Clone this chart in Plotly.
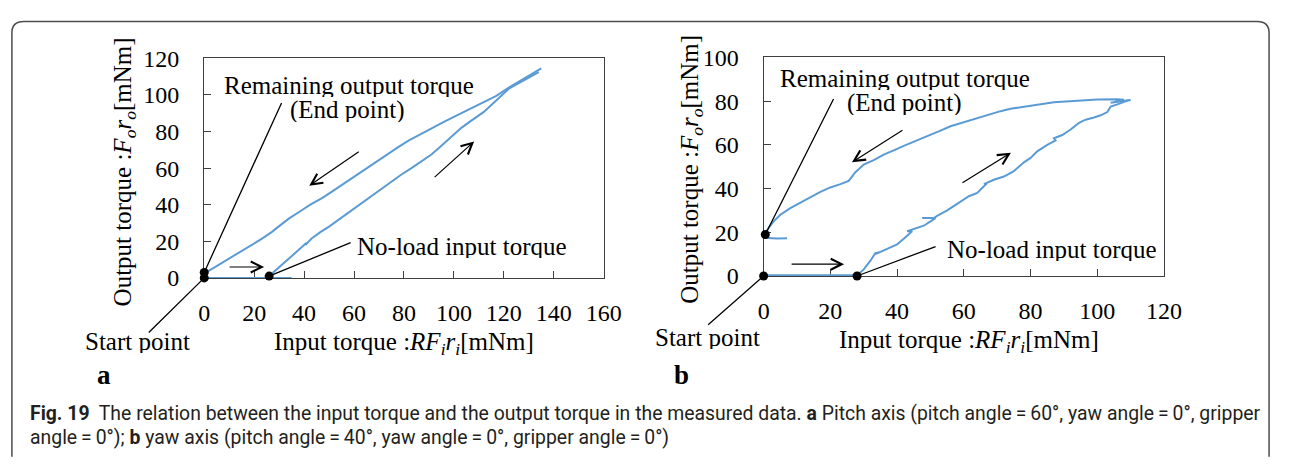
import plotly.graph_objects as go

W, H = 1290, 467
BLUE = "#5b9bd5"
AX = "#3f3f3f"
SERIF = "Liberation Serif, Times New Roman, serif"
CAPFONT = "Roboto, Noto Sans, sans-serif"

# ---- (a) pitch axis ----
a_idle_x = [0, 10, 20, 30, 35]
a_idle_y = [0, 0, 0, 0, 0]
a_load_x = [26, 29, 32, 35, 38, 41, 40.5, 43, 46.5, 50, 53, 56, 59, 62, 65.5, 69, 72,
            75, 79, 83, 87, 91, 94, 97, 100, 103, 106, 109, 112, 115, 118, 122, 126,
            130, 134]
a_load_y = [1, 4.5, 8.5, 12, 15.5, 19.2, 18, 21.5, 25, 28, 31, 33.8, 36.8, 39.9, 43,
            46.5, 49.7, 52.8, 56.5, 60, 63.6, 67.4, 71, 74.8, 78.5, 82, 85, 88, 90.7,
            94.5, 98.5, 103.4, 106.5, 109.5, 112.5]
a_unload_x = [135, 130, 126, 122, 117, 112, 108, 104, 100, 96, 91, 86, 82, 78, 74, 70,
              65, 60, 55, 51, 47, 42.5, 38, 34, 30, 27, 23, 19, 15, 10, 5, 1, 0]
a_unload_y = [114.5, 110.5, 107.3, 104, 99.5, 96, 93.5, 90.8, 88, 85.3, 81.8, 78.2,
              75.2, 71.7, 68, 64.5, 60, 55, 50.5, 47, 43.5, 40, 36, 32.5, 28.3, 25,
              21.3, 18, 14.8, 10.5, 6.8, 3.2, 3]
a_start = (0, 0)
a_end = (0, 3)
a_noload = (26, 1)

# ---- (b) yaw axis ----
b_idle_x = [0, 10, 20, 28]
b_idle_y = [0.3, 0.3, 0.3, 0.3]
b_load_x = [28, 30, 32, 33.5, 35, 33.5, 35.5, 37.5, 40, 42, 44.5, 43, 46, 48, 50, 51.5,
            47.5, 51, 52, 55, 58, 61.5, 64, 67, 66, 69, 72, 75, 78, 80, 82, 85, 87.5,
            87, 89.5, 92, 94.5, 96.5, 99, 101, 103, 104, 106, 108, 109.5]
b_load_y = [0.3, 3, 7, 10.5, 11, 10, 11.5, 12.5, 14.5, 17, 20.5, 20.5, 22, 23, 25, 26.5,
            26.5, 26.5, 27.5, 30, 33, 36.5, 38, 42.5, 42, 44, 45.5, 48, 52, 54, 57, 60,
            62, 63, 64.5, 67, 70, 71.5, 72.5, 73.5, 75, 77.5, 78.5, 79.5, 80.5]
b_unload_x = [110, 104, 108, 106, 100, 95, 91, 87, 84, 82, 80, 77, 74, 71, 68, 65, 62,
              59, 56, 53, 50, 47.5, 45, 42, 39, 36, 33, 30, 27.5, 25.5, 23, 20, 17, 14,
              11, 8, 5, 3, 1.5, 0.5, 0.3, 2, 4, 7]
b_unload_y = [80.5, 79.2, 80.6, 80.8, 80.7, 80.3, 80, 79.5, 78.8, 78.3, 78, 77.3, 76.5,
              75.4, 74, 72.5, 71, 69.8, 68.5, 66.5, 64.5, 62.8, 61.3, 59.5, 57.5, 55.5,
              53, 51, 47.5, 43.5, 42, 40.5, 38.5, 36, 33.5, 31, 28, 25, 22, 19.5, 17.5,
              17.3, 17.2, 17.3]
b_start = (0, 0)
b_end = (0.5, 19)
b_noload = (28, 0)

x_ticks_a = [0, 20, 40, 60, 80, 100, 120, 140, 160]
y_ticks_a = [0, 20, 40, 60, 80, 100, 120]
x_ticks_b = [0, 20, 40, 60, 80, 100, 120]
y_ticks_b = [0, 20, 40, 60, 80, 100]


def px(x):
    return x / W


def py(y):
    return 1 - y / H


fig = go.Figure()

line_style = dict(color=BLUE, width=2)
for xs, ys, xa, ya in [
    (a_idle_x, a_idle_y, "x", "y"),
    (a_load_x, a_load_y, "x", "y"),
    (a_unload_x, a_unload_y, "x", "y"),
    (b_idle_x, b_idle_y, "x2", "y2"),
    (b_load_x, b_load_y, "x2", "y2"),
    (b_unload_x, b_unload_y, "x2", "y2"),
]:
    fig.add_trace(go.Scatter(x=xs, y=ys, xaxis=xa, yaxis=ya, mode="lines",
                             line=line_style, cliponaxis=False, hoverinfo="skip"))

for pts, xa, ya in [((a_start, a_end, a_noload), "x", "y"),
                    ((b_start, b_end, b_noload), "x2", "y2")]:
    fig.add_trace(go.Scatter(x=[p[0] for p in pts], y=[p[1] for p in pts],
                             xaxis=xa, yaxis=ya, mode="markers",
                             marker=dict(color="black", size=9), cliponaxis=False,
                             hoverinfo="skip"))


def axis(domain, rng, ticks, anchor, standoff):
    return dict(domain=domain, range=rng, tickmode="array", tickvals=ticks,
                ticktext=[str(t) for t in ticks], ticks="inside", ticklen=7,
                tickwidth=1.2, tickcolor=AX, showline=True, linecolor=AX,
                linewidth=1.3, mirror=True, showgrid=False, zeroline=False,
                anchor=anchor, ticklabelstandoff=standoff, layer="below traces",
                tickfont=dict(family=SERIF, size=24, color="black"),
                fixedrange=True)


fig.update_layout(
    width=W, height=H, margin=dict(l=0, r=0, t=0, b=0),
    paper_bgcolor="white", plot_bgcolor="white", showlegend=False,
    xaxis=axis([px(202), px(609)], [0, 160], x_ticks_a, "y", 13),
    yaxis=axis([py(280.5), py(48)], [0, 120], y_ticks_a, "x", 19),
    xaxis2=axis([px(772), px(1180)], [0, 120], x_ticks_b, "y2", 13),
    yaxis2=axis([py(278.5), py(47)], [0, 100], y_ticks_b, "x2", 19),
)

anns = []
tfont = dict(family=SERIF, size=25, color="black")

# axis titles
y_title = "Output torque :<i>F</i><sub><i>o</i></sub><i>r</i><sub><i>o</i></sub>[mNm]"
x_title = "Input torque :<i>RF</i><sub><i>i</i></sub><i>r</i><sub><i>i</i></sub>[mNm]"
for cx, cy in [(121, 168), (699, 165)]:
    anns.append(dict(text=y_title, x=px(cx), y=py(cy), xref="paper", yref="paper",
                     showarrow=False, textangle=-90, font=tfont,
                     xanchor="center", yanchor="middle"))
for cx, cy in [(406, 350), (981, 348)]:
    anns.append(dict(text=x_title, x=px(cx), y=py(cy), xref="paper", yref="paper",
                     showarrow=False, font=tfont, xanchor="center", yanchor="middle"))

# text labels inside the panels
for text, cx, cy, anchor in [
    ("Remaining output torque", 350, 76, "center"),
    ("(End point)", 348, 102.5, "center"),
    ("No-load input torque", 357, 247, "left"),
    ("Start point", 134, 347, "center"),
    ("Remaining output torque", 916, 69, "center"),
    ("(End point)", 916, 95.5, "center"),
    ("No-load input torque", 958, 250, "left"),
    ("Start point", 715, 343, "center"),
]:
    anns.append(dict(text=text, x=px(cx), y=py(cy), xref="paper", yref="paper",
                     showarrow=False, font=tfont, xanchor=anchor, yanchor="middle",
                     height=24, borderpad=0, valign="middle"))

# leader lines from the labels to the marked points
for (pt, xa, ya, dx, dy) in [
    (a_start, "x", "y", -57, 56),
    (a_end, "x", "y", 78, -171),
    (a_noload, "x", "y", 83, -34),
    (b_start, "x2", "y2", -57, 50),
    (b_end, "x2", "y2", 69, -137),
    (b_noload, "x2", "y2", 80, -30),
]:
    anns.append(dict(x=pt[0], y=pt[1], xref=xa, yref=ya, ax=dx, ay=dy,
                     axref="pixel", ayref="pixel", text="", showarrow=True,
                     arrowhead=0, arrowwidth=1.3, arrowcolor="black",
                     standoff=0, startstandoff=0))

# direction arrows (tail -> head, in pixels)
for (tx, ty, hx, hy) in [
    (227, 269, 263, 269),
    (360, 148, 309, 183),
    (436, 173, 477, 136),
    (800, 266, 854, 266),
    (914, 125, 862, 158),
    (974, 179, 1024, 148),
]:
    anns.append(dict(x=px(hx), y=py(hy), xref="paper", yref="paper",
                     ax=tx - hx, ay=ty - hy, axref="pixel", ayref="pixel", text="",
                     showarrow=True, arrowhead=5, arrowsize=1.8, arrowwidth=1.2,
                     arrowcolor="black"))

# panel letters
for letter, cx in [("a", 100), ("b", 688)]:
    anns.append(dict(text=f"<b>{letter}</b>", x=px(cx), y=py(383), xref="paper",
                     yref="paper", showarrow=False,
                     font=dict(family=SERIF, size=27, color="black"),
                     xanchor="center", yanchor="middle"))

# caption
cap1 = ("<b>Fig. 19</b>  The relation between the input torque and the output torque "
        "in the measured data. <b>a</b> Pitch axis (pitch angle\u2009=\u200960\u00b0, "
        "yaw angle\u2009=\u20090\u00b0, gripper")
cap2 = ("angle\u2009=\u20090\u00b0); <b>b</b> yaw axis (pitch angle\u2009=\u200940\u00b0, "
        "yaw angle\u2009=\u20090\u00b0, gripper angle\u2009=\u20090\u00b0)")
for text, cy in [(cap1, 424), (cap2, 450)]:
    anns.append(dict(text=text, x=px(22), y=py(cy), xref="paper", yref="paper",
                     showarrow=False, xanchor="left", yanchor="middle",
                     font=dict(family=CAPFONT, size=19.4, color="#231f20")))

fig.update_layout(annotations=anns)

# rounded frame around the figure block
r = 12
x0, x1, y0, y1 = 6, 1287, 9, 470
path = (f"M {px(x0)},{py(y1)} L {px(x0)},{py(y0 + r)} "
        f"Q {px(x0)},{py(y0)} {px(x0 + r)},{py(y0)} "
        f"L {px(x1 - r)},{py(y0)} Q {px(x1)},{py(y0)} {px(x1)},{py(y0 + r)} "
        f"L {px(x1)},{py(y1)}")
fig.add_shape(type="path", path=path, xref="paper", yref="paper",
              line=dict(color="#4d4d4d", width=1.5))

fig.write_html("out.html")
